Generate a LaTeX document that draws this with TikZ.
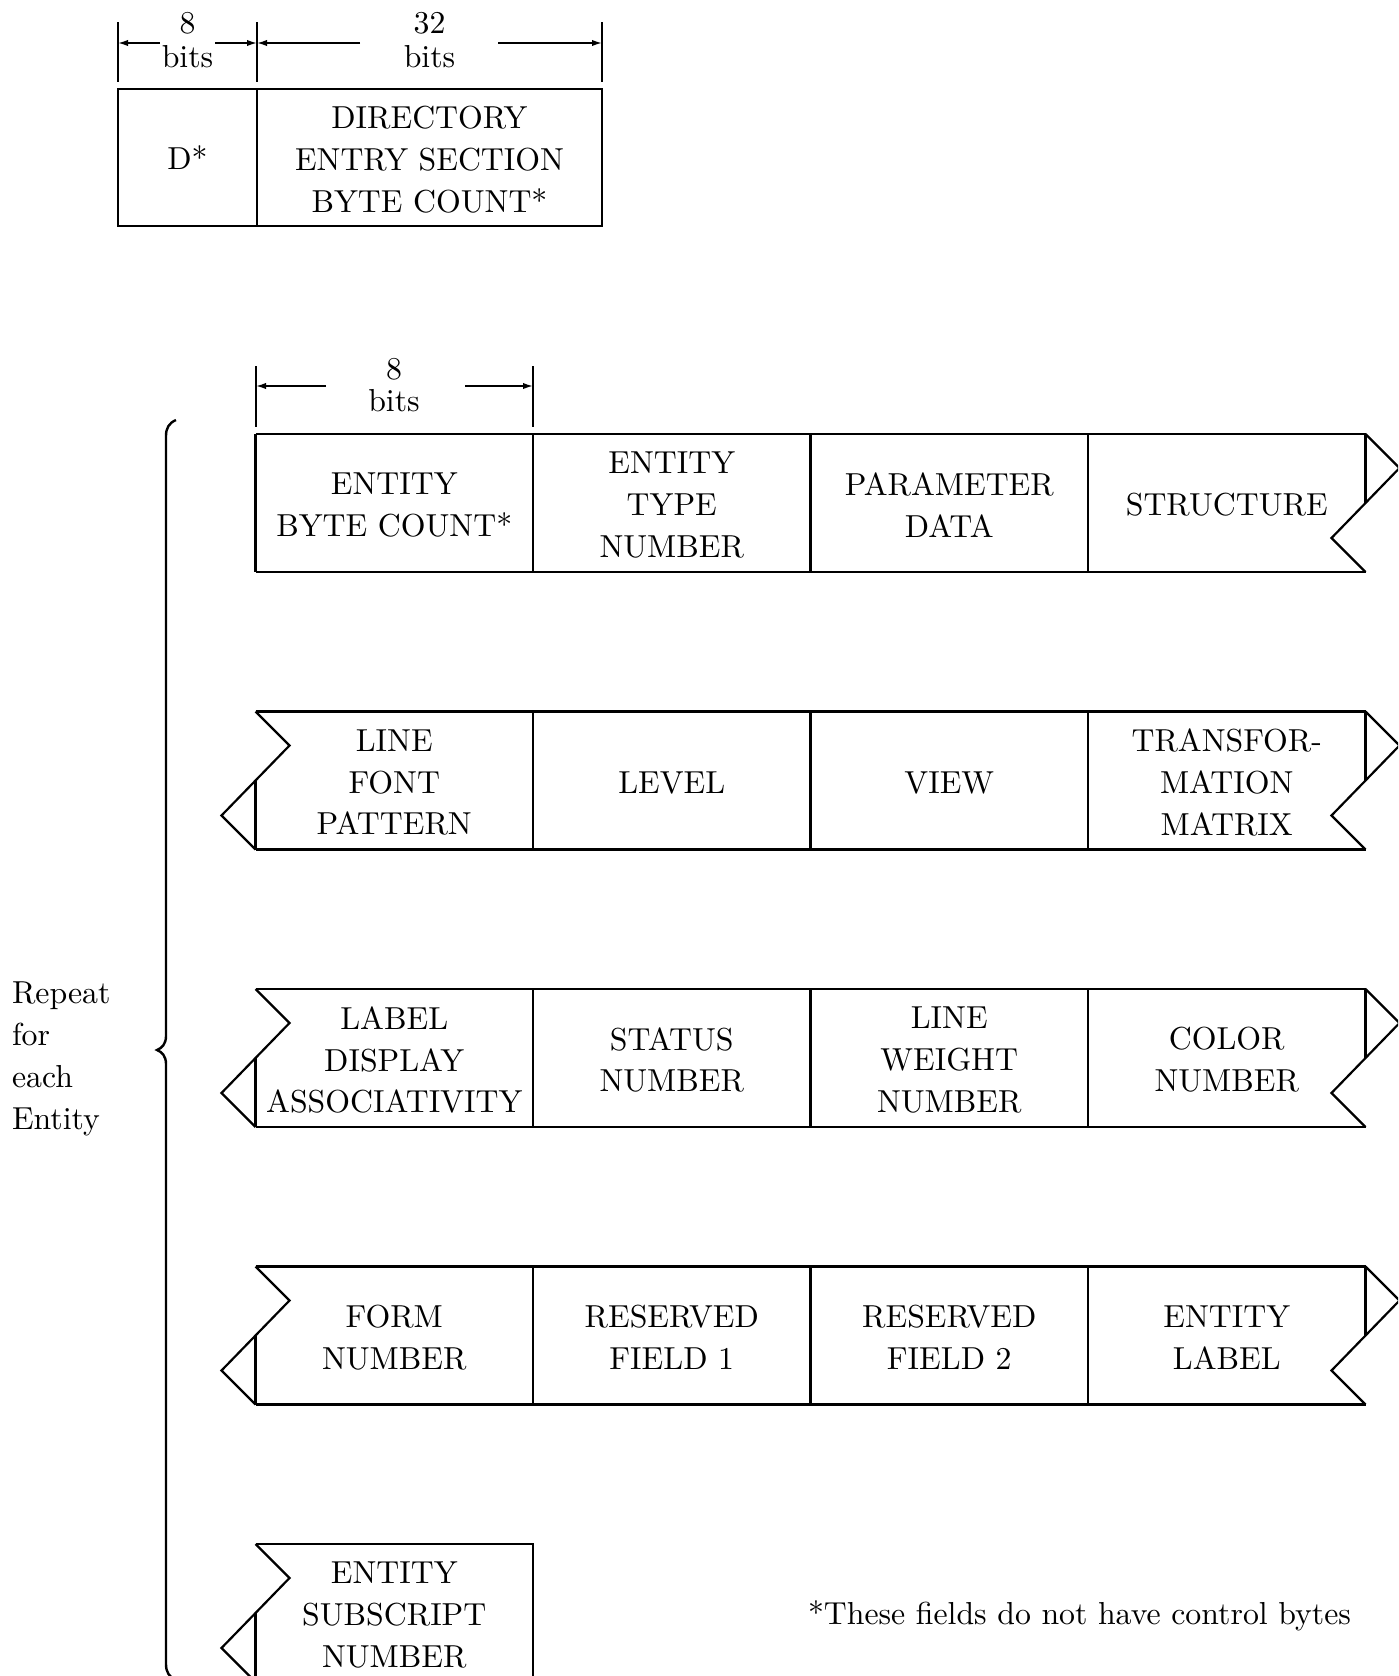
\documentclass[tikz,border=0pt]{standalone}
\usepackage{fontspec}
\setmainfont{lmroman10-regular}[Extension=.otf]
\usetikzlibrary{arrows.meta}
\begin{document}
\begin{tikzpicture}[x=0.5pt,y=-0.5pt,
  every node/.style={font=\fontsize{15.9}{20.9}\selectfont, align=center, inner sep=0pt, outer sep=0pt},
  txt/.style={yshift=-1pt},
  ln/.style={line width=1.1pt},
  tick/.style={line width=0.9pt},
  dimarrow/.style={line width=0.8pt, -{Latex[length=5pt,width=3.2pt]}},
  cell/.style={minimum width=138.75pt, minimum height=69pt},
]
\useasboundingbox (0,0) rectangle (1398,1676);
\clip (0,0) rectangle (1398,1676);

% ---------- top box ----------
\node[draw, ln, minimum width=69.5pt, minimum height=68.5pt] (D) at (187.5,157.5) {D*};
\node[draw, ln, minimum width=172.5pt, minimum height=68.5pt] (DESBC) at (429.5,157.5) {};
\node[txt] (DESBCt) at (DESBC.center) {DIRECTORY\\ENTRY SECTION\\BYTE COUNT*};

% dimension for top box
\coordinate (tA) at (118,22);
\coordinate (tB) at (257,22);
\coordinate (tC) at (602,22);
\draw[tick] (tA) -- ++(0,60);
\draw[tick] (tB) -- ++(0,60);
\draw[tick] (tC) -- ++(0,60);
\node[txt] (e8) at (187.5,21) {8};
\node (e8b) at (187.5,57) {bits};
\node[txt] (e32) at (429.5,21) {32};
\node (e32b) at (429.5,57) {bits};
\coordinate (a1) at (160,43);
\coordinate (a2) at (215,43);
\coordinate (a3) at (360,43);
\coordinate (a4) at (498,43);
\draw[dimarrow] (a1) -- (tA |- a1);
\draw[dimarrow] (a2) -- (tB |- a2);
\draw[dimarrow] (a3) -- (tB |- a3);
\draw[dimarrow] (a4) -- (tC |- a4);

% ---------- entity rows ----------
% row 1
\node[cell] (r1c1) at (394.25,503) {};
\node[cell] (r1c2) at (671.75,503) {};
\node[cell] (r1c3) at (949.25,503) {};
\node[cell] (r1c4) at (1226.75,503) {};
% row 2
\node[cell] (r2c1) at (394.25,780.5) {};
\node[cell] (r2c2) at (671.75,780.5) {};
\node[cell] (r2c3) at (949.25,780.5) {};
\node[cell] (r2c4) at (1226.75,780.5) {};
% row 3
\node[cell] (r3c1) at (394.25,1058) {};
\node[cell] (r3c2) at (671.75,1058) {};
\node[cell] (r3c3) at (949.25,1058) {};
\node[cell] (r3c4) at (1226.75,1058) {};
% row 4
\node[cell] (r4c1) at (394.25,1335.5) {};
\node[cell] (r4c2) at (671.75,1335.5) {};
\node[cell] (r4c3) at (949.25,1335.5) {};
\node[cell] (r4c4) at (1226.75,1335.5) {};
% row 5
\node[cell] (r5c1) at (394.25,1613) {};

% cell texts
\node[txt] (t11) at (r1c1) {ENTITY\\BYTE COUNT*};
\node[txt] (t12) at (r1c2) {ENTITY\\TYPE\\NUMBER};
\node[txt] (t13) at (r1c3) {PARAMETER\\DATA};
\node[txt] (t14) at (r1c4) {STRUCTURE};
\node[txt] (t21) at (r2c1) {LINE\\FONT\\PATTERN};
\node[txt] (t22) at (r2c2) {LEVEL};
\node[txt] (t23) at (r2c3) {VIEW};
\node[txt] (t24) at (r2c4) {TRANSFOR-\\MATION\\MATRIX};
\node[txt] (t31) at (r3c1) {LABEL\\DISPLAY\\ASSOCIATIVITY};
\node[txt] (t32) at (r3c2) {STATUS\\NUMBER};
\node[txt] (t33) at (r3c3) {LINE\\WEIGHT\\NUMBER};
\node[txt] (t34) at (r3c4) {COLOR\\NUMBER};
\node[txt] (t41) at (r4c1) {FORM\\NUMBER};
\node[txt] (t42) at (r4c2) {RESERVED\\FIELD 1};
\node[txt] (t43) at (r4c3) {RESERVED\\FIELD 2};
\node[txt] (t44) at (r4c4) {ENTITY\\LABEL};
\node[txt] (t51) at (r5c1) {ENTITY\\SUBSCRIPT\\NUMBER};

% outlines rows 1-4
\foreach \r in {1,2,3,4}{
  \draw[ln] (r\r c1.north west) -- (r\r c4.north east);
  \draw[ln] (r\r c1.south west) -- (r\r c4.south east);
  \foreach \c in {1,2,3}{
    \draw[ln] (r\r c\c.north east) -- (r\r c\c.south east);
  }
  % right broken end
  \draw[ln] (r\r c4.north east) -- ++(34,34) -- ++(-68,70) -- ++(34,34);
  \draw[ln] (r\r c4.north east) -- ++(0,69);
}
% row 1 left edge straight
\draw[ln] (r1c1.north west) -- (r1c1.south west);
% left broken ends rows 2-5
\foreach \r in {2,3,4,5}{
  \draw[ln] (r\r c1.north west) -- ++(34,34) -- ++(-68,70) -- ++(34,34);
  \draw[ln] (r\r c1.south west) -- ++(0,-69);
}
% row 5 box
\draw[ln] (r5c1.north west) -- (r5c1.north east) -- (r5c1.south east) -- (r5c1.south west);

% dimension for entity byte count
\coordinate (bA) at (256,366);
\coordinate (bB) at (533,366);
\draw[tick] (bA) -- ++(0,61);
\draw[tick] (bB) -- ++(0,61);
\node[txt] (f8) at (394,367) {8};
\node (f8b) at (394,401) {bits};
\coordinate (b1) at (326,386);
\coordinate (b2) at (465,386);
\draw[dimarrow] (b1) -- (bA |- b1);
\draw[dimarrow] (b2) -- (bB |- b2);

% brace
\draw[line width=1.2pt] (176,420) .. controls (169,423) and (166,428) .. (166,436) -- (166,1036)
  .. controls (166,1044) and (162,1048) .. (157,1050)
  .. controls (162,1052) and (166,1056) .. (166,1064) -- (166,1664)
  .. controls (166,1672) and (169,1677) .. (176,1680);

\node[txt, anchor=west, align=left] (rep) at (12,1057) {Repeat\\for\\each\\Entity};

\node[txt, anchor=west] (note) at (808,1614) {*These fields do not have control bytes};
\end{tikzpicture}
\end{document}
